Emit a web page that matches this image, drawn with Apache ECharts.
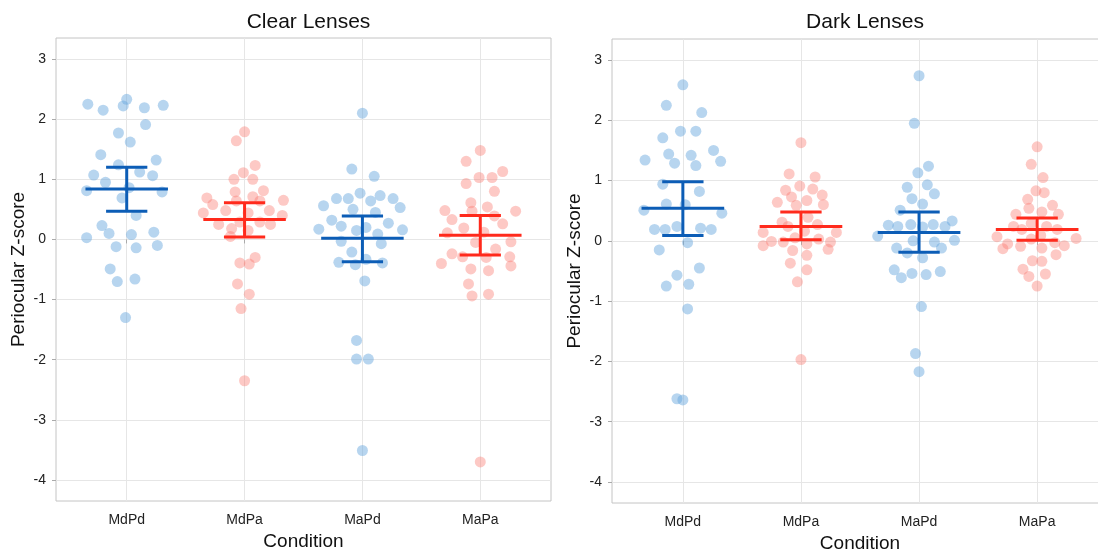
<!DOCTYPE html>
<html>
<head>
<meta charset="utf-8">
<script src="https://cdn.jsdelivr.net/npm/echarts@6.0.0/dist/echarts.min.js"></script>
<style>
  html, body { margin: 0; padding: 0; background: #fff; }
  #chart { width: 1098px; height: 551px; }
</style>
</head>
<body>
<div id="chart"></div>
<script>
// conditions on the x axis
const conditions = ['MdPd', 'MdPa', 'MaPd', 'MaPa']
const yTicks = [-4, -3, -2, -1, 0, 1, 2, 3]

// each point: [horizontal jitter (category units), z-score]
const clearMdPd = [[-0.33, 2.25], [-0.20, 2.15], [0.00, 2.33], [-0.03, 2.22], [0.15, 2.19], [0.31, 2.23], [0.16, 1.91],
  [-0.07, 1.77], [0.03, 1.62], [-0.22, 1.41], [0.25, 1.32], [-0.07, 1.24], [0.11, 1.12], [-0.28, 1.07], [0.22, 1.06],
  [-0.18, 0.95], [0.02, 0.86], [-0.34, 0.81], [0.30, 0.79], [-0.04, 0.69], [0.08, 0.40], [-0.21, 0.23], [-0.15, 0.10],
  [0.04, 0.08], [0.23, 0.12], [-0.34, 0.03], [-0.09, -0.12], [0.08, -0.14], [0.26, -0.10], [-0.14, -0.49], [-0.08, -0.70],
  [0.07, -0.66], [-0.01, -1.30]]
const clearMdPa = [[0.00, 1.79], [-0.07, 1.64], [0.09, 1.23], [-0.01, 1.11], [-0.09, 1.00], [0.07, 1.00], [0.16, 0.81],
  [-0.08, 0.79], [-0.32, 0.69], [0.07, 0.71], [0.33, 0.65], [-0.27, 0.58], [-0.07, 0.64], [0.13, 0.64], [-0.16, 0.48],
  [0.21, 0.48], [-0.35, 0.44], [0.03, 0.44], [0.32, 0.40], [-0.22, 0.25], [-0.04, 0.29], [0.13, 0.29], [0.22, 0.25],
  [-0.11, 0.18], [0.03, 0.15], [-0.12, 0.05], [0.09, -0.30], [-0.04, -0.39], [0.04, -0.41], [-0.06, -0.74], [0.04, -0.91],
  [-0.03, -1.15], [0.00, -2.35]]
const clearMaPd = [[0.00, 2.10], [-0.09, 1.17], [0.10, 1.05], [-0.02, 0.77], [0.15, 0.73], [-0.22, 0.68], [-0.12, 0.68],
  [0.26, 0.68], [0.07, 0.64], [-0.33, 0.56], [0.32, 0.53], [-0.08, 0.50], [0.11, 0.45], [-0.26, 0.32], [0.22, 0.27],
  [-0.18, 0.22], [0.03, 0.20], [-0.37, 0.17], [-0.05, 0.15], [0.34, 0.16], [0.13, 0.09], [-0.18, -0.03], [0.16, -0.07],
  [-0.09, -0.21], [-0.20, -0.38], [-0.06, -0.42], [0.03, -0.33], [0.17, -0.39], [0.02, -0.69], [-0.05, -1.68],
  [-0.05, -1.99], [0.05, -1.99], [0.00, -3.51]]
const clearMaPa = [[0.00, 1.48], [-0.12, 1.30], [0.19, 1.13], [-0.01, 1.03], [0.10, 1.03], [-0.12, 0.93], [0.12, 0.80],
  [-0.08, 0.61], [0.06, 0.54], [-0.30, 0.48], [-0.07, 0.47], [0.30, 0.47], [-0.24, 0.33], [0.12, 0.39], [0.19, 0.26],
  [-0.14, 0.19], [-0.28, 0.11], [0.03, 0.12], [-0.04, -0.05], [0.26, -0.04], [0.13, -0.16], [-0.24, -0.24], [-0.15, -0.29],
  [0.05, -0.30], [0.25, -0.29], [-0.33, -0.40], [0.26, -0.44], [-0.08, -0.49], [0.07, -0.52], [-0.10, -0.74],
  [-0.07, -0.94], [0.07, -0.91], [0.00, -3.70]]

const darkMdPd = [[0.00, 2.59], [-0.14, 2.25], [0.16, 2.13], [-0.02, 1.82], [0.11, 1.82], [-0.17, 1.71], [0.26, 1.50],
  [-0.32, 1.34], [-0.12, 1.44], [0.07, 1.42], [0.32, 1.32], [-0.07, 1.29], [0.11, 1.25], [-0.17, 0.94], [0.14, 0.82],
  [-0.14, 0.61], [0.02, 0.60], [-0.33, 0.51], [0.33, 0.46], [-0.05, 0.24], [-0.24, 0.19], [-0.15, 0.19], [0.15, 0.21],
  [0.24, 0.19], [0.04, -0.03], [-0.20, -0.15], [0.14, -0.45], [-0.05, -0.57], [-0.14, -0.75], [0.05, -0.72],
  [0.04, -1.13], [-0.05, -2.62], [0.00, -2.64]]
const darkMdPa = [[0.00, 1.63], [-0.10, 1.11], [0.12, 1.06], [-0.01, 0.91], [-0.13, 0.84], [0.10, 0.86], [-0.08, 0.73],
  [0.18, 0.76], [-0.20, 0.64], [0.05, 0.67], [0.19, 0.60], [-0.04, 0.59], [0.06, 0.39], [-0.16, 0.31], [0.14, 0.27],
  [-0.11, 0.24], [-0.32, 0.14], [0.03, 0.16], [0.30, 0.14], [-0.05, 0.05], [0.15, 0.03], [-0.25, -0.01], [-0.15, -0.02],
  [0.25, -0.02], [0.05, -0.05], [-0.32, -0.08], [0.23, -0.14], [-0.07, -0.16], [0.05, -0.24], [-0.09, -0.37],
  [0.05, -0.48], [-0.03, -0.68], [0.00, -1.97]]
const darkMaPd = [[0.00, 2.74], [-0.04, 1.95], [0.08, 1.24], [-0.01, 1.13], [-0.10, 0.89], [0.07, 0.93], [0.13, 0.78],
  [-0.06, 0.70], [0.03, 0.61], [-0.16, 0.51], [0.28, 0.33], [-0.26, 0.26], [-0.18, 0.24], [-0.07, 0.27], [0.03, 0.23],
  [0.12, 0.27], [0.22, 0.24], [-0.35, 0.08], [0.30, 0.01], [-0.05, 0.00], [0.13, -0.02], [-0.19, -0.12], [0.19, -0.12],
  [-0.10, -0.20], [0.03, -0.28], [-0.21, -0.48], [-0.15, -0.61], [-0.06, -0.54], [0.06, -0.56], [0.18, -0.51],
  [0.02, -1.09], [-0.03, -1.87], [0.00, -2.17]]
const darkMaPa = [[0.00, 1.56], [-0.05, 1.27], [0.05, 1.05], [-0.01, 0.83], [0.06, 0.80], [-0.08, 0.69], [0.13, 0.59],
  [-0.07, 0.54], [0.04, 0.48], [-0.18, 0.44], [0.18, 0.44], [-0.05, 0.29], [-0.20, 0.24], [0.08, 0.24], [-0.13, 0.19],
  [0.17, 0.19], [0.03, 0.09], [-0.34, 0.07], [-0.05, 0.03], [0.33, 0.04], [-0.25, -0.05], [0.15, -0.03], [0.23, -0.08],
  [-0.29, -0.13], [-0.14, -0.09], [0.04, -0.12], [0.16, -0.23], [-0.04, -0.33], [0.04, -0.34], [-0.12, -0.47],
  [0.07, -0.55], [-0.07, -0.59], [0.00, -0.75]]

// mean and confidence interval per condition
const clearMean = [0.84, 0.33, 0.02, 0.07]
const clearLow = [0.47, 0.04, -0.37, -0.26]
const clearHigh = [1.20, 0.61, 0.39, 0.40]
const darkMean = [0.54, 0.24, 0.14, 0.19]
const darkLow = [0.09, 0.02, -0.19, 0.01]
const darkHigh = [0.98, 0.48, 0.48, 0.38]

const pointColors = ['rgba(105,168,222,0.6)', 'rgba(250,120,110,0.5)', 'rgba(105,168,222,0.6)', 'rgba(250,120,110,0.5)']
const barColors = ['#0c5db6', '#ff2a1c', '#0c5db6', '#ff2a1c']
const font = '"Liberation Sans", Arial, Helvetica, sans-serif'

// the right panel runs past the picture edge in the original
const panels = [
  { title: 'Clear Lenses', groups: [clearMdPd, clearMdPa, clearMaPd, clearMaPa], mean: clearMean, low: clearLow, high: clearHigh,
    grid: { left: 56, top: 38, width: 495, height: 463 } },
  { title: 'Dark Lenses', groups: [darkMdPd, darkMdPa, darkMaPd, darkMaPa], mean: darkMean, low: darkLow, high: darkHigh,
    grid: { left: 612, top: 39, width: 496, height: 464 } }
]

const chart = echarts.init(document.getElementById('chart'), null, { renderer: 'canvas' })

const option = {
  animation: false,
  backgroundColor: '#fff',
  title: [],
  grid: [],
  xAxis: [],
  yAxis: [],
  series: []
}

panels.forEach((p, i) => {
  option.title.push({
    text: p.title,
    left: p.grid.left + p.grid.width / 2,
    top: 7,
    textAlign: 'center',
    textStyle: { fontFamily: font, fontSize: 21, fontWeight: 'normal', color: '#111' }
  })
  option.grid.push(Object.assign({
    show: true, borderColor: '#c4c4c4', borderWidth: 1, containLabel: false, outerBoundsMode: 'none'
  }, p.grid))
  option.xAxis.push({
    gridIndex: i,
    type: 'value',
    min: 0.4,
    max: 4.6,
    name: 'Condition',
    nameLocation: 'middle',
    nameGap: 28,
    nameTextStyle: { fontFamily: font, fontSize: 19, color: '#111' },
    axisLine: { show: false },
    axisTick: { show: true, length: 4, customValues: [1, 2, 3, 4], lineStyle: { color: '#aaa' } },
    axisLabel: {
      customValues: [1, 2, 3, 4],
      formatter: v => conditions[Math.round(v) - 1] || '',
      fontFamily: font, fontSize: 14, color: '#222', margin: 12
    },
    splitLine: { show: true, lineStyle: { color: '#e6e6e6', width: 1 } }
  })
  option.yAxis.push({
    gridIndex: i,
    type: 'value',
    min: -4.35,
    max: 3.35,
    name: 'Periocular Z-score',
    nameLocation: 'middle',
    nameGap: 28,
    nameTextStyle: { fontFamily: font, fontSize: 19, color: '#111' },
    axisLine: { show: false },
    axisTick: { show: true, length: 4, customValues: yTicks, lineStyle: { color: '#aaa' } },
    axisLabel: { customValues: yTicks, fontFamily: font, fontSize: 14, color: '#222', margin: 10 },
    splitLine: { show: true, lineStyle: { color: '#e6e6e6', width: 1 } }
  })

  p.groups.forEach((g, c) => {
    option.series.push({
      type: 'scatter',
      xAxisIndex: i,
      yAxisIndex: i,
      symbolSize: 11,
      itemStyle: { color: pointColors[c] },
      data: g.map(d => [c + 1 + d[0], d[1]]),
      z: 2
    })
  })

  option.series.push({
    type: 'custom',
    xAxisIndex: i,
    yAxisIndex: i,
    z: 5,
    data: p.mean.map((m, c) => [c + 1, m, p.low[c], p.high[c]]),
    renderItem: (params, api) => {
      const x = api.value(0)
      const m = api.value(1)
      const lo = api.value(2)
      const hi = api.value(3)
      const style = { stroke: barColors[params.dataIndex], lineWidth: 3, fill: null }
      const seg = (x1, y1, x2, y2) => {
        const a = api.coord([x1, y1])
        const b = api.coord([x2, y2])
        return { type: 'line', shape: { x1: a[0], y1: a[1], x2: b[0], y2: b[1] }, style }
      }
      return {
        type: 'group',
        children: [
          seg(x - 0.35, m, x + 0.35, m),
          seg(x, lo, x, hi),
          seg(x - 0.175, hi, x + 0.175, hi),
          seg(x - 0.175, lo, x + 0.175, lo)
        ]
      }
    }
  })
})

chart.setOption(option)
</script>
</body>
</html>
